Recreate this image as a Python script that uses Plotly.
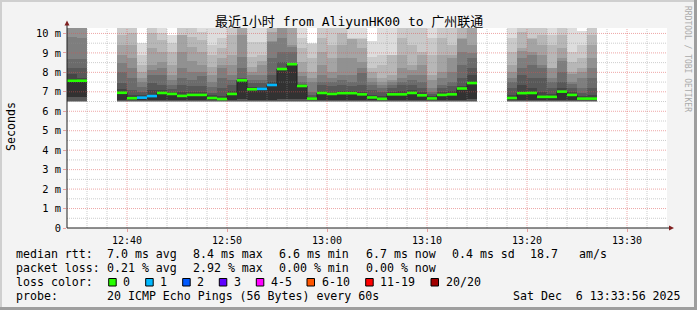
import pandas as pd
import plotly.graph_objects as go

# ---------------- data ----------------
T0 = pd.Timestamp("2025-12-06 12:34:00")
WINDOW_MIN = 60
STEP_MS = 60_000
Y_TOP = 10.28

# minute offset (from 12:34) of each polling round that has data
minute_idx = [0, 1] + list(range(5, 41)) + list(range(44, 53))

median_ms = [7.57, 7.57,
             6.95, 6.67, 6.70, 6.78, 6.94, 6.89, 6.79, 6.84, 6.84, 6.68,
             6.63, 6.89, 7.59, 7.13, 7.15, 7.35, 8.17, 8.42, 7.30, 6.65,
             6.94, 6.89, 6.93, 6.93, 6.87, 6.71, 6.64, 6.87, 6.87, 6.94,
             6.82, 6.66, 6.84, 6.87, 7.17, 7.45,
             6.68, 6.93, 6.94, 6.74, 6.74, 7.01, 6.84, 6.65, 6.65]

loss_count = [0, 0,
              0, 0, 1, 1, 0, 0, 0, 0, 0, 0,
              0, 0, 0, 0, 1, 1, 0, 0, 0, 0,
              0, 0, 0, 0, 0, 0, 0, 0, 0, 0,
              0, 0, 0, 0, 0, 0,
              0, 0, 0, 0, 0, 0, 0, 0, 0]

# sorted ping times (ms) of the 20 pings, upper half (smoke bands)
ping_p20 = [11, 11, 11, 11, 9.53, 11, 10.6, 9.9, 11, 11, 10.6, 10.6, 10.6, 11, 11, 10.6, 10.3, 11, 11, 11,
            10.6, 9.53, 11, 11, 11, 10.6, 10.6, 9.63, 10.6, 10.6, 11, 11, 11, 10.6, 11, 11, 11, 11,
            10.6, 11, 11, 11, 10.6, 11, 10.6, 10.12, 11]
ping_p19 = [10.9, 10.9, 10.6, 10.6, 8.89, 10.6, 10.01, 9.5, 10.6, 10.6, 10.1, 9.41, 9.75, 10.6, 10.9, 9.58,
            9.58, 10.6, 10.9, 10.9, 9.75, 9.45, 10.6, 10.6, 10.6, 9.75, 9.75, 8.81, 8.89, 8.89, 10.6, 10.6,
            10.6, 9.75, 10.6, 10.6, 10.9, 10.9, 9.75, 10.6, 10.6, 10.6, 9.92, 10.6, 9.07, 9.41, 10.6]
ping_p18 = [10.8, 10.8, 9.92, 10.01, 8.38, 10.01, 9.66, 9.07, 9.92, 9.8, 9.66, 8.89, 9.24, 9.92, 10.7, 8.81,
            8.89, 10.5, 10.8, 10.8, 9.24, 8.72, 9.75, 9.41, 10.01, 9.74, 9.74, 8.21, 8.38, 8.88, 9.75, 9.41,
            9.07, 8.89, 9.75, 9.41, 10.6, 10.8, 9.07, 10.09, 9.75, 9.92, 9.41, 9.92, 8.55, 8.72, 9.92]
ping_p17 = [10.6, 10.6, 9.41, 9.41, 8.04, 9.24, 9.07, 8.38, 9.9, 9.3, 9.07, 8.30, 8.72, 8.89, 10.6, 8.30,
            8.6, 10.09, 10.7, 10.6, 8.55, 8.04, 9.07, 8.72, 9.41, 9.73, 9.24, 8.0, 7.70, 7.87, 8.89, 8.38,
            8.9, 7.87, 8.89, 8.9, 9.75, 10.6, 8.38, 9.24, 9.74, 9.41, 8.21, 9.24, 8.04, 8.21, 9.41]
ping_p16 = [10.5, 10.45, 8.89, 8.72, 7.70, 8.38, 8.55, 7.87, 9.07, 8.6, 8.38, 7.87, 8.4, 8.4, 9.92, 8.0,
            8.38, 9.6, 10.6, 9.41, 8.04, 7.7, 8.38, 8.04, 8.72, 8.72, 8.55, 7.70, 7.5, 7.6, 8.21, 8.1,
            8.38, 7.6, 8.04, 8.72, 9.74, 9.41, 8.04, 9.1, 9.07, 8.89, 8.2, 8.72, 7.9, 8.0, 8.72]
ping_p15 = [9.8, 9.75, 8.47, 8.21, 7.5, 8.1, 8.2, 7.6, 8.21, 8.0, 8.0, 7.5, 8.21, 7.87, 8.81, 7.87,
            7.87, 9.58, 9.75, 9.3, 7.8, 7.52, 7.87, 7.7, 7.87, 7.87, 8.2, 7.5, 7.35, 7.52, 7.7, 7.87,
            7.87, 7.18, 7.7, 8.04, 9.07, 9.0, 7.7, 8.72, 8.9, 8.38, 7.70, 8.6, 7.52, 7.70, 8.21]
ping_p14 = [8.7, 8.7, 8.0, 7.70, 7.27, 7.87, 7.87, 7.35, 7.70, 7.6, 7.8, 7.27, 7.70, 7.6, 8.21, 7.6,
            7.6, 8.72, 9.07, 9.07, 7.52, 7.01, 7.5, 7.52, 7.6, 7.52, 7.95, 7.35, 7.2, 7.35, 7.52, 7.6,
            7.5, 7.0, 7.35, 7.52, 8.38, 8.72, 7.52, 8.21, 8.38, 8.2, 7.5, 8.04, 7.4, 7.18, 7.70]
ping_p13 = [8.2, 8.2, 7.44, 7.10, 7.01, 7.44, 7.35, 7.15, 7.35, 7.3, 7.3, 6.95, 7.18, 7.35, 7.70, 7.44,
            7.44, 7.87, 8.55, 8.47, 7.4, 6.85, 7.35, 7.3, 7.35, 7.3, 7.35, 7.10, 7.01, 7.18, 7.35, 7.35,
            7.2, 6.9, 7.2, 7.3, 7.70, 8.21, 7.18, 7.87, 7.70, 7.70, 7.18, 7.52, 7.18, 6.95, 7.2]
ping_p12 = [7.9, 7.7, 7.15, 6.85, 6.85, 7.10, 7.1, 7.0, 7.0, 7.0, 7.0, 6.84, 6.8, 7.05, 7.65, 7.25,
            7.25, 7.5, 8.21, 8.45, 7.33, 6.72, 7.05, 7.0, 7.05, 7.05, 7.0, 6.85, 6.8, 7.0, 7.05, 7.1,
            7.0, 6.8, 7.0, 7.05, 7.3, 7.87, 6.85, 7.35, 7.18, 7.0, 6.9, 7.2, 7.0, 6.8, 6.85]
ping_p11 = [7.65, 7.6, 7.0, 6.72, 6.74, 6.82, 6.98, 6.93, 6.84, 6.88, 6.88, 6.72, 6.67, 6.93, 7.62, 7.17,
            7.18, 7.38, 8.2, 8.44, 7.32, 6.68, 6.97, 6.92, 6.97, 6.97, 6.91, 6.75, 6.68, 6.91, 6.91, 6.98,
            6.86, 6.7, 6.88, 6.91, 7.2, 7.5, 6.72, 6.97, 6.98, 6.78, 6.78, 7.05, 6.88, 6.69, 6.69]

# lower half of the sorted pings (bottom edges of the smoke bands)
ping_low_a = [6.48] * 47                      # fastest pings (bands 1-4)
ping_low_b = [6.52] * 47                      # bands 5-8
ping_low_c = [6.75, 6.72] + [6.58] * 12 + [6.62] + [6.58] * 3 + [6.62, 6.62, 6.62] + [6.58] * 16 + [6.65] + [6.58] * 9

loss_labels = ["0", "1", "2", "3", "4-5", "6-10", "11-19", "20/20"]
loss_colors = ["#26ff00", "#00b8ff", "#0059ff", "#5e00ff", "#ff00ff", "#ff5500", "#ff0000", "#a10000"]
loss_upper = [0, 1, 2, 3, 5, 10, 19, 20]

title_text = "最近1小时 from AliyunHK00 to 广州联通"
rtt_stats = ["7.0 ms avg", "8.4 ms max", "6.6 ms min", "6.7 ms now", "0.4 ms sd", "18.7", "am/s"]
loss_stats = ["0.21 % avg", "2.92 % max", "0.00 % min", "0.00 % now"]
probe_text = "20 ICMP Echo Pings (56 Bytes) every 60s"
stamp_text = "Sat Dec\u00a0 6 13:33:56 2025"

# ---------------- helpers ----------------
L, T, PW, PH, W, H = 67, 28, 600, 200, 697, 310
PAD = 2  # annotation inner padding in px


def px(x):
    return (x - L) / PW


def py(y):
    return (T + PH - y) / PH


def t_at(m):
    return T0 + pd.Timedelta(minutes=m)


MONO = "DejaVu Sans Mono"
fig = go.Figure()

# ---------------- smoke ----------------
band_greys = [221, 202, 183, 164, 145, 126, 107, 88, 69, 50]
uppers = [ping_p20, ping_p19, ping_p18, ping_p17, ping_p16, ping_p15, ping_p14, ping_p13, ping_p12, ping_p11]
lowers = [ping_low_a] * 4 + [ping_low_b] * 4 + [ping_low_c] * 2
x_center = [T0 + pd.Timedelta(seconds=60 * m + 30) for m in minute_idx]
for g, up, lo in zip(band_greys, uppers, lowers):
    fig.add_trace(go.Bar(
        x=x_center, y=[u - l for u, l in zip(up, lo)], base=lo, width=STEP_MS,
        marker=dict(color=f"rgb({g},{g},{g})", line=dict(width=0)),
        hoverinfo="skip", showlegend=False))

# ---------------- grid (drawn over the smoke, like rrdtool) ----------------
minor_c = "rgba(143,143,143,0.45)"
major_c = "rgba(222,80,80,0.5)"
vx_min, vy_min, vx_maj, vy_maj = [], [], [], []
for k in range(1, WINDOW_MIN):
    t = t_at(k)
    if t.minute % 10 == 0:
        vx_maj += [t, t, None]; vy_maj += [0, Y_TOP, None]
    elif t.minute % 2 == 0:
        vx_min += [t, t, None]; vy_min += [0, Y_TOP, None]
hx_min, hy_min, hx_maj, hy_maj = [], [], [], []
for k in range(1, int(Y_TOP * 2) + 1):
    v = k / 2
    if k % 2 == 0:
        hx_maj += [t_at(0), t_at(WINDOW_MIN), None]; hy_maj += [v, v, None]
    else:
        hx_min += [t_at(0), t_at(WINDOW_MIN), None]; hy_min += [v, v, None]
for xs, ys, c in [(vx_min, vy_min, minor_c), (hx_min, hy_min, minor_c),
                  (vx_maj, vy_maj, major_c), (hx_maj, hy_maj, major_c)]:
    fig.add_trace(go.Scatter(x=xs, y=ys, mode="lines", line=dict(color=c, width=1, dash="1px,1px"),
                             hoverinfo="skip", showlegend=False))

# ---------------- median ----------------
sx, sy = [], []
prev = None
for m, v in zip(minute_idx, median_ms):
    if prev is not None and m != prev + 1:
        sx += [t_at(prev + 1), None]; sy += [last_v, None]
    sx.append(t_at(m)); sy.append(v)
    prev, last_v = m, v
sx.append(t_at(prev + 1)); sy.append(last_v)
fig.add_trace(go.Scatter(x=sx, y=sy, mode="lines", line=dict(color="#202020", width=1, shape="hv"),
                         hoverinfo="skip", showlegend=False))


def bucket(n):
    for i, u in enumerate(loss_upper):
        if n <= u:
            return i
    return len(loss_upper) - 1


for b, col in enumerate(loss_colors):
    xs, ys = [], []
    for m, v, n in zip(minute_idx, median_ms, loss_count):
        if bucket(n) == b:
            xs += [t_at(m), t_at(m + 1), None]; ys += [v, v, None]
    if xs:
        fig.add_trace(go.Scatter(x=xs, y=ys, mode="lines", line=dict(color=col, width=2.6),
                                 hoverinfo="skip", showlegend=False))

# ---------------- decorations ----------------
shapes = []
# frame
shapes.append(dict(type="rect", xref="paper", yref="paper", x0=px(0), x1=px(W), y0=py(0), y1=py(2),
                   fillcolor="#cfcfcf", line=dict(width=0), layer="above"))
shapes.append(dict(type="rect", xref="paper", yref="paper", x0=px(0), x1=px(2), y0=py(0), y1=py(H),
                   fillcolor="#cfcfcf", line=dict(width=0), layer="above"))
shapes.append(dict(type="rect", xref="paper", yref="paper", x0=px(0), x1=px(W), y0=py(H - 3), y1=py(H),
                   fillcolor="#9e9e9e", line=dict(width=0), layer="above"))
shapes.append(dict(type="rect", xref="paper", yref="paper", x0=px(W - 3), x1=px(W), y0=py(0), y1=py(H),
                   fillcolor="#9e9e9e", line=dict(width=0), layer="above"))
# axes with arrows
shapes.append(dict(type="line", xref="paper", yref="paper", x0=px(L), x1=px(671), y0=0, y1=0,
                   line=dict(color="#1f1f1f", width=1), layer="above"))
shapes.append(dict(type="line", xref="paper", yref="paper", x0=0, x1=0, y0=0, y1=py(24),
                   line=dict(color="#1f1f1f", width=1), layer="above"))
shapes.append(dict(type="path", xref="paper", yref="paper", layer="above",
                   path=f"M {px(64.5)} {py(25.5)} L {px(69.5)} {py(25.5)} L {px(67)} {py(20.5)} Z",
                   fillcolor="#7f1f1f", line=dict(width=0)))
shapes.append(dict(type="path", xref="paper", yref="paper", layer="above",
                   path=f"M {px(669)} {py(225.5)} L {px(669)} {py(230.5)} L {px(674)} {py(228)} Z",
                   fillcolor="#7f1f1f", line=dict(width=0)))

ann = []


def text(x, y, s, size=11.6, anchor="left", color="#000000", angle=0, family=MONO):
    if anchor == "left":
        x -= PAD
    elif anchor == "right":
        x += PAD
    ann.append(dict(x=px(x), y=py(y), xref="paper", yref="paper", text=s, showarrow=False,
                    xanchor=anchor, yanchor="middle", textangle=angle,
                    font=dict(family=family, size=size, color=color)))


text(348.5, 21, title_text, size=13, anchor="center", family=MONO + ", Noto Sans CJK SC")
text(11, 127, "Seconds", size=11.6, anchor="center", angle=-90)
text(688, 59, "RRDTOOL / TOBI OETIKER", size=8, anchor="center", angle=90, color="#aaaaaa")

col_x = [107.3, 193.3, 279.3, 365.7, 451.7, 530.3, 579.3]
text(16, 254.3, "median rtt:")
for s, x in zip(rtt_stats, col_x):
    text(x, 254.3, s)
text(16, 268.3, "packet loss:")
for s, x in zip(loss_stats, col_x):
    text(x, 268.3, s)
text(16, 282.3, "loss color:")
box_x = [108.7, 145.7, 182.7, 219.3, 256.3, 307.0, 365.7, 431.0]
for lab, col, bx in zip(loss_labels, loss_colors, box_x):
    shapes.append(dict(type="rect", xref="paper", yref="paper", x0=px(bx), x1=px(bx + 7.5),
                       y0=py(278.5), y1=py(286), fillcolor=col, line=dict(color="#000000", width=1)))
    text(bx + 14.6, 282.3, lab)
text(16, 296.2, "probe:")
text(107.3, 296.2, probe_text)
text(681, 296.2, stamp_text, anchor="right")

fig.update_layout(
    width=W, height=H, margin=dict(l=L, r=W - L - PW, t=T, b=H - T - PH),
    paper_bgcolor="#f3f3f3", plot_bgcolor="#ffffff",
    barmode="overlay", bargap=0, showlegend=False,
    font=dict(family=MONO, size=10, color="#000000"),
    shapes=shapes, annotations=ann,
    xaxis=dict(type="date", range=[t_at(0), t_at(WINDOW_MIN)], showgrid=False, zeroline=False,
               showline=False, tickvals=[t_at(m) for m in range(6, WINDOW_MIN, 10)], tickformat="%H:%M",
               ticks="outside", ticklen=3, tickcolor=major_c, tickfont=dict(family=MONO, size=10),
               fixedrange=True),
    yaxis=dict(range=[0, Y_TOP], showgrid=False, zeroline=False, showline=False,
               tickvals=list(range(0, 11)), ticktext=["0"] + [f"{i} m" for i in range(1, 11)],
               ticks="outside", ticklen=3, tickcolor=major_c, tickfont=dict(family=MONO, size=10.4),
               fixedrange=True),
)

fig.write_html("out.html")
